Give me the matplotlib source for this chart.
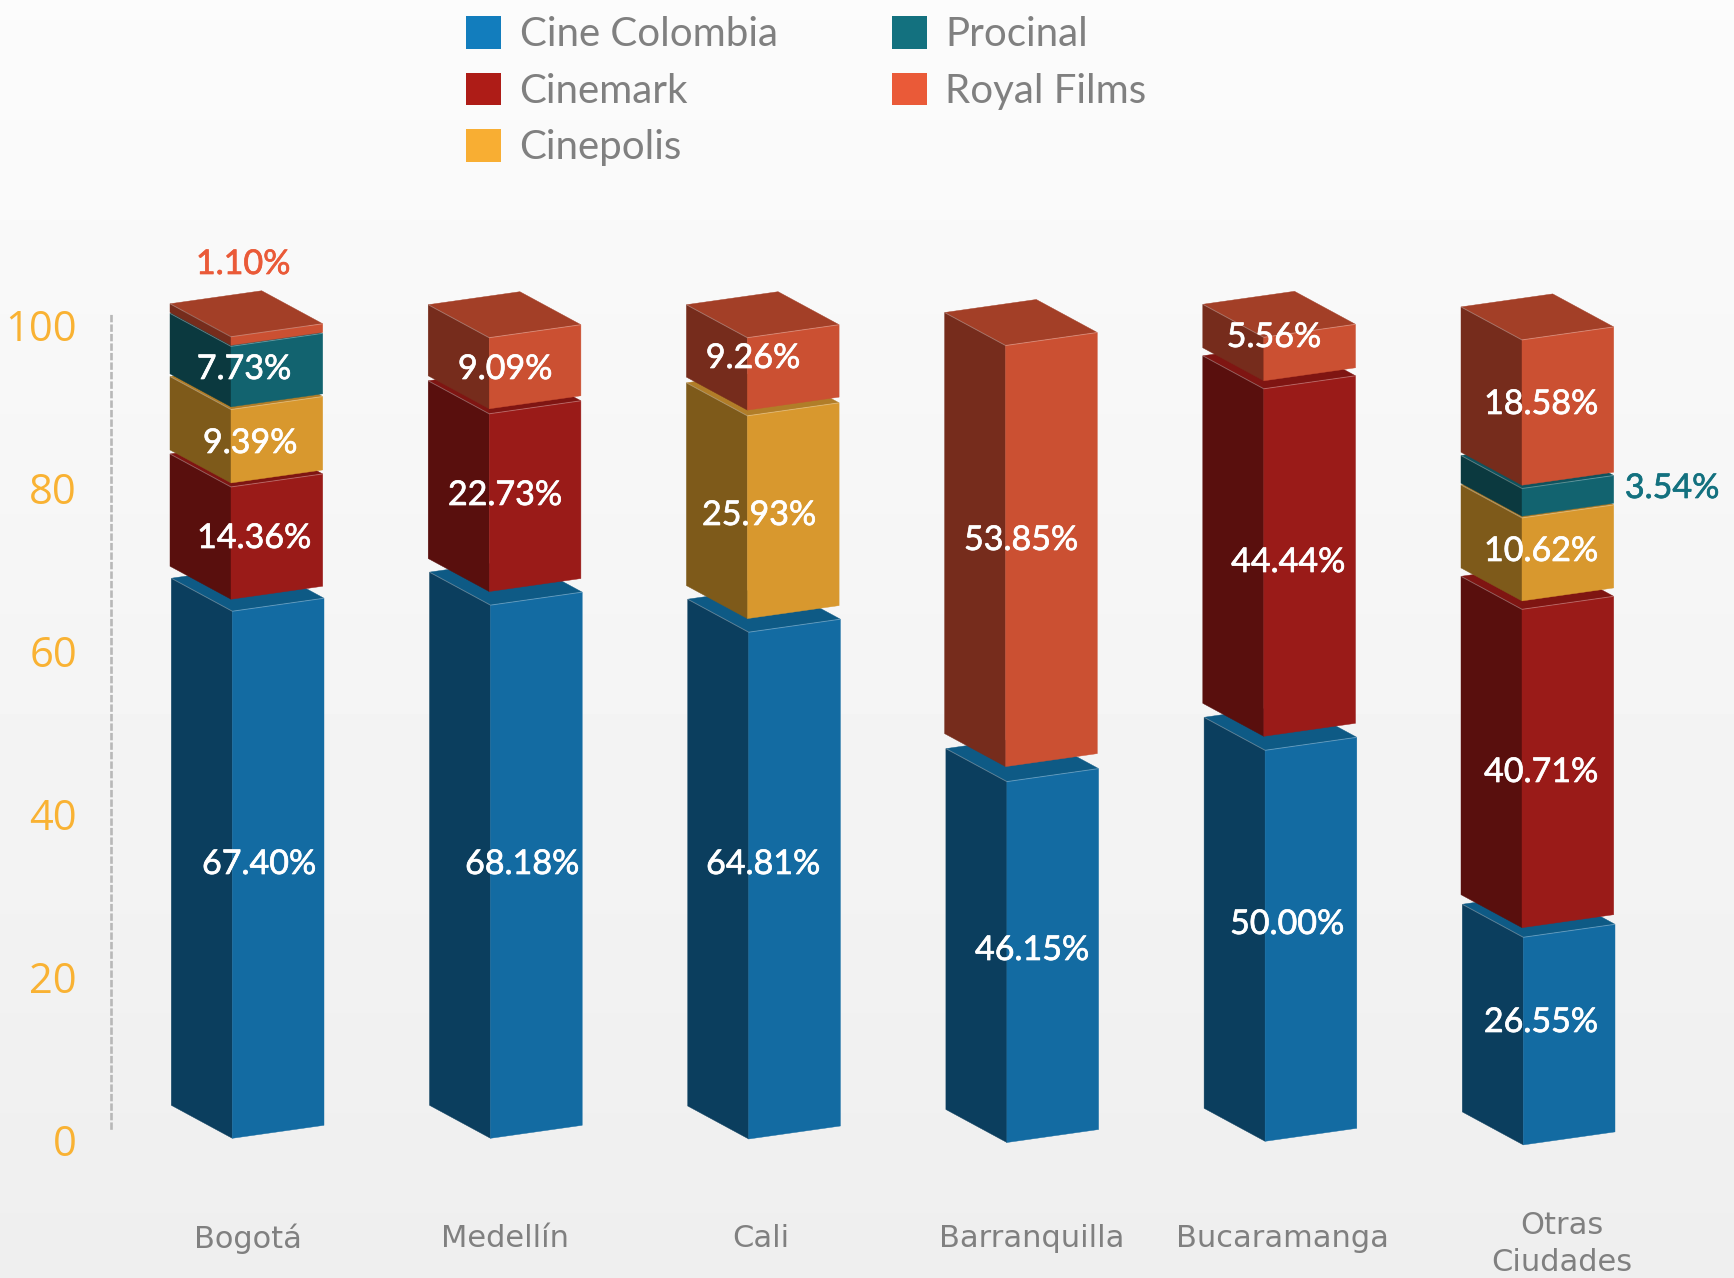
import numpy as np
import matplotlib
matplotlib.use("Agg")
import matplotlib.pyplot as plt
import matplotlib.patheffects as pe
from matplotlib.patches import Polygon, Patch
from matplotlib.transforms import Affine2D, ScaledTranslation

# ---------- data ----------
cities = ["Bogotá", "Medellín", "Cali", "Barranquilla", "Bucaramanga", "Otras\nCiudades"]
series = ["Cine Colombia", "Cinemark", "Cinepolis", "Procinal", "Royal Films"]
cine_colombia = [67.40, 68.18, 64.81, 46.15, 50.00, 26.55]
cinemark = [14.36, 22.73, 0, 0, 44.44, 40.71]
cinepolis = [9.39, 0, 25.93, 0, 0, 10.62]
procinal = [7.73, 0, 0, 0, 0, 3.54]
royal_films = [1.10, 9.09, 9.26, 53.85, 5.56, 18.58]
y_ticks = [0, 20, 40, 60, 80, 100]

# ---------- geometry / style (pixels of the 1734x1278 canvas) ----------
W, H, DPI = 1734, 1278, 100
PX_X0, PX_DX = 231.0, 258.2       # front edge of first bar, bar spacing
PX_Y0, PX_PER_PCT = 1138.3, 7.82  # zero line of the bars, pixels per percent
FRONT_W, FRONT_RISE = 91.7, 13.0
SIDE_W, SIDE_RISE = 61.0, 33.0
BASE_DROP = [0, 0, 0.7, 4.2, 3.0, 6.6]
GAPS = {  # lift of each block over the one below, by city
    0: [12, 4, 2.7, 1], 1: [13.6, 5], 2: [13.6, 5.7],
    3: [15], 4: [14, 8], 5: [9.6, 8.4, 1.7, 3.3],
}
FRONT = ["#136ba2", "#9a1b18", "#d8982e", "#12636f", "#cb5032"]
SIDE = ["#0b3e5e", "#590f0d", "#7e5a1a", "#0b393f", "#762c1c"]
TOP = ["#0e5a85", "#7f1512", "#b17d28", "#0f535e", "#a33f27"]
KEY = ["#127dbd", "#ae1c17", "#f8ae33", "#13717f", "#ea5a38"]
NARROW = ["Lato", "DejaVu Sans"]
GREY = "#808080"

# label anchors (pixel centres), by city and series
LABEL_XY = {
    (0, 4): (243, 263), (0, 3): (244, 368), (0, 2): (250, 442), (0, 1): (254, 537), (0, 0): (259, 863),
    (1, 4): (505, 368), (1, 1): (505, 494), (1, 0): (522, 863),
    (2, 4): (753, 357), (2, 2): (759, 514), (2, 0): (763, 863),
    (3, 4): (1021, 539), (3, 0): (1032, 949),
    (4, 4): (1274, 336), (4, 1): (1288, 561), (4, 0): (1287, 923),
    (5, 4): (1541, 403), (5, 3): (1672, 487), (5, 2): (1541, 550), (5, 1): (1541, 771), (5, 0): (1541, 1021),
}
LABEL_COLOR = {(0, 4): "#ea5a38", (5, 3): "#13717f"}
CITY_X = [248, 505.5, 761, 1032, 1282, 1562]

fig = plt.figure(figsize=(W / DPI, H / DPI), dpi=DPI)
pix = Affine2D().scale(1 / W, -1 / H).translate(0, 1) + fig.transFigure

# background
bg = fig.add_axes([0, 0, 1, 1], zorder=0)
bg.imshow(np.linspace(0.985, 0.935, 256)[:, None], cmap="gray", vmin=0, vmax=1,
          aspect="auto", extent=(0, 1, 0, 1))
bg.axis("off")

# value axis
ax_v = fig.add_axes([111 / W, 1 - 1128 / H, 0.2, (1128 - 313) / H], zorder=1)
ax_v.patch.set_alpha(0)
ax_v.set_ylim(0, 100)
ax_v.set_xticks([])
ax_v.set_yticks(y_ticks)
ax_v.tick_params(axis="y", length=0, pad=24.5, labelsize=30, labelcolor="#f9b233")
for s in ("top", "right", "bottom"):
    ax_v.spines[s].set_visible(False)
ax_v.spines["left"].set_color("#b8b8b8")
ax_v.spines["left"].set_linewidth(1.9)
ax_v.spines["left"].set_linestyle((0, (1.8, 1.8)))
shift = ScaledTranslation(0, -12 / DPI, fig.dpi_scale_trans)
for lab in ax_v.get_yticklabels():
    lab.set_family("Open Sans")
    lab.set_transform(lab.get_transform() + shift)

# bars: x in category units, y in percent
ax = fig.add_axes([0, 0, 1, 1], zorder=2)
ax.patch.set_alpha(0)
ax.axis("off")
ax.set_xlim(-PX_X0 / PX_DX, (W - PX_X0) / PX_DX)
ax.set_ylim((PX_Y0 - H) / PX_PER_PCT, PX_Y0 / PX_PER_PCT)

ux = 1 / PX_DX
uy = 1 / PX_PER_PCT
table = [cine_colombia, cinemark, cinepolis, procinal, royal_films]


def block(i, lo, hi, k):
    x = i + (1.3 if k == 0 else 0) * ux
    fw, fr = FRONT_W * ux, FRONT_RISE * uy
    sw, sr = SIDE_W * ux, SIDE_RISE * uy
    edge = "#ffffff"
    faces = [
        ([(x, hi), (x + fw, hi + fr), (x + fw - sw, hi + fr + sr), (x - sw, hi + sr)], TOP[k]),
        ([(x, lo), (x, hi), (x - sw, hi + sr), (x - sw, lo + sr)], SIDE[k]),
        ([(x, lo), (x + fw, lo + fr), (x + fw, hi + fr), (x, hi)], FRONT[k]),
    ]
    for pts, col in faces:
        ax.add_patch(Polygon(pts, closed=True, facecolor=col, edgecolor=col, linewidth=0.3, zorder=3))
    ax.plot([x - sw, x, x + fw], [hi + sr, hi, hi + fr], color=edge, alpha=0.28, lw=0.7, zorder=3)


for i in range(len(cities)):
    level = -BASE_DROP[i] * uy
    g = iter(GAPS[i])
    first = True
    for k in range(len(series)):
        v = table[k][i]
        if v <= 0:
            continue
        if not first:
            level += next(g) * uy
        block(i, level, level + v, k)
        level += v
        first = False
        px, py = LABEL_XY[(i, k)]
        col = LABEL_COLOR.get((i, k), "white")
        t = ax.text(px, py + 1, f"{v:.2f}%", transform=pix, ha="center", va="center",
                    color=col, fontsize=24.5, family=NARROW, zorder=5)
        t.set_path_effects([pe.withStroke(linewidth=0.5, foreground=col)])

for i, name in enumerate(cities):
    two = "\n" in name
    ax.text(CITY_X[i], 1244 if two else 1238.5, name, transform=pix,
            ha="center", va="center", color=GREY, fontsize=22, linespacing=1.32,
            family="DejaVu Sans", zorder=5)

handles = [Patch(facecolor=c, edgecolor="none") for c in KEY]
leg = ax.legend(handles, series, ncol=2, loc="upper left",
                bbox_to_anchor=(462, 12), bbox_transform=pix,
                frameon=False, labelcolor=GREY,
                prop={"family": NARROW, "size": 29},
                handlelength=0.87, handleheight=0.87, handletextpad=0.46,
                columnspacing=2.83, labelspacing=0.48, borderpad=0.1, borderaxespad=0)

fig.savefig("out.png", dpi=DPI)
